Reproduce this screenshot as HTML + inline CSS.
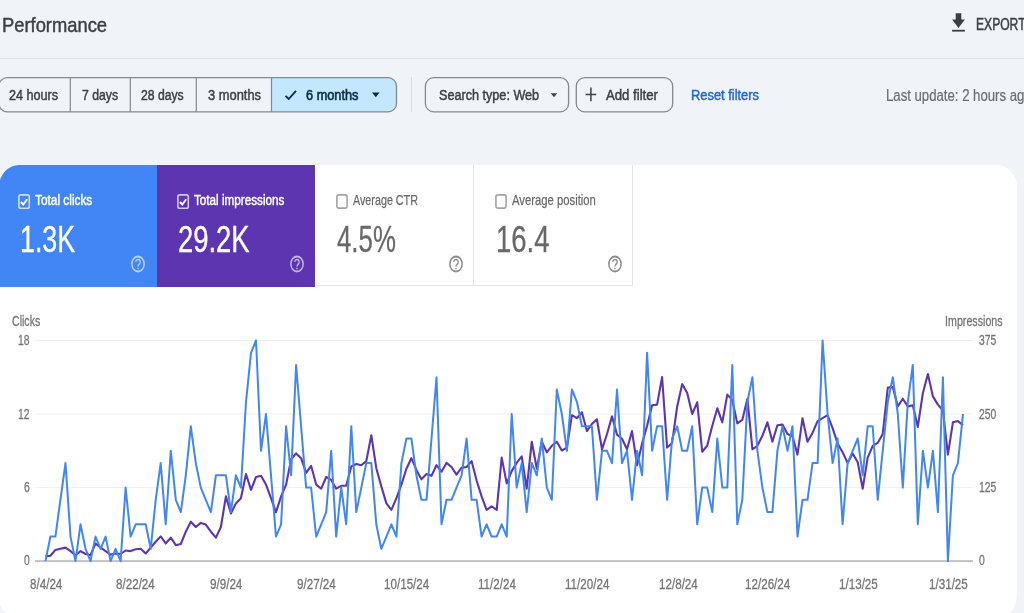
<!DOCTYPE html>
<html><head><meta charset="utf-8"><title>Performance</title>
<style>
html,body{margin:0;padding:0}
html{overflow:hidden}
body{width:1024px;height:613px;overflow:hidden;background:#f0f4f9;position:relative;font-family:"Liberation Sans",sans-serif}
.t{position:absolute;white-space:nowrap;transform-origin:0 50%;display:block}
#wrap{position:absolute;left:0;top:0;width:1024px;height:613px;filter:blur(0.45px)}
</style></head><body><div id="wrap">
<span class="t" style="left:2.00px;top:12.1px;font-size:21px;line-height:25.2px;color:#3c4043;transform:scaleX(0.874);-webkit-text-stroke:0.45px #3c4043;">Performance</span>
<svg style="position:absolute;left:951px;top:12px" width="16" height="21" viewBox="0 0 16 21"><path d="M4.7 1.3h5.6v6.3h3.6L7.5 16 1.1 7.6h3.6z" fill="#3c4043"/><rect x="1.1" y="17.8" width="12.8" height="1.8" fill="#3c4043"/></svg>
<span class="t" style="left:976.30px;top:14.8px;font-size:16.3px;line-height:19.6px;color:#3c4043;transform:scaleX(0.743);-webkit-text-stroke:0.5px #3c4043;">EXPORT</span>
<div style="position:absolute;left:0;top:58px;width:1024px;height:1px;background:#e3e7ec"></div>
<svg style="position:absolute;left:0;top:70px" width="700" height="50" viewBox="0 70 700 50"><path d="M271.5 77.6H388a8.5 8.5 0 0 1 8.5 8.5v17.3a8.5 8.5 0 0 1 -8.5 8.5H271.5z" fill="#c2e7ff"/><rect x="-1.2" y="77.6" width="397.7" height="34.3" rx="8.5" fill="none" stroke="#85888c" stroke-width="1.3"/><path d="M70.3 77.6v34.3M130.3 77.6v34.3M196.3 77.6v34.3M271.5 77.6v34.3" stroke="#85888c" stroke-width="1.2" fill="none"/><rect x="425.4" y="77.6" width="143.2" height="34.3" rx="8.5" fill="none" stroke="#85888c" stroke-width="1.3"/><rect x="576.3" y="77.6" width="96.4" height="34.3" rx="8.5" fill="none" stroke="#85888c" stroke-width="1.3"/></svg>
<span class="t" style="left:9.30px;top:86.6px;font-size:14px;line-height:16.8px;color:#3c4043;transform:scaleX(0.901);-webkit-text-stroke:0.45px #3c4043;">24 hours</span>
<span class="t" style="left:82.00px;top:86.6px;font-size:14px;line-height:16.8px;color:#3c4043;transform:scaleX(0.874);-webkit-text-stroke:0.45px #3c4043;">7 days</span>
<span class="t" style="left:141.20px;top:86.6px;font-size:14px;line-height:16.8px;color:#3c4043;transform:scaleX(0.871);-webkit-text-stroke:0.45px #3c4043;">28 days</span>
<span class="t" style="left:207.50px;top:86.6px;font-size:14px;line-height:16.8px;color:#3c4043;transform:scaleX(0.920);-webkit-text-stroke:0.45px #3c4043;">3 months</span>
<span class="t" style="left:306.00px;top:86.6px;font-size:14px;line-height:16.8px;color:#0b2a47;transform:scaleX(0.911);-webkit-text-stroke:0.6px #0b2a47;">6 months</span>
<svg style="position:absolute;left:283px;top:87px" width="16" height="16" viewBox="0 0 16 16"><path d="M2.5 8.8l3.2 3.2 7.3-8.2" fill="none" stroke="#0b2a47" stroke-width="1.8"/></svg>
<svg style="position:absolute;left:371px;top:92px" width="10" height="6" viewBox="0 0 10 6"><path d="M1 0.5h7.6L4.8 5.2z" fill="#0b2a47"/></svg>
<div style="position:absolute;left:411px;top:77px;width:1px;height:35px;background:#d8dce1"></div>
<span class="t" style="left:438.80px;top:86.6px;font-size:14px;line-height:16.8px;color:#3c4043;transform:scaleX(0.902);-webkit-text-stroke:0.45px #3c4043;">Search type: Web</span>
<svg style="position:absolute;left:550px;top:93px" width="8" height="5" viewBox="0 0 8 5"><path d="M0.8 0.3h6.4L4 4.2z" fill="#3c4043"/></svg>
<svg style="position:absolute;left:585px;top:87px" width="12" height="15" viewBox="0 0 12 15"><path d="M5.9 0.6v13.6M0.6 7.4h10.6" stroke="#3c4043" stroke-width="1.5" fill="none"/></svg>
<span class="t" style="left:606.30px;top:86.6px;font-size:14px;line-height:16.8px;color:#3c4043;transform:scaleX(0.940);-webkit-text-stroke:0.45px #3c4043;">Add filter</span>
<span class="t" style="left:691.00px;top:86.6px;font-size:14px;line-height:16.8px;color:#2066d6;transform:scaleX(0.920);-webkit-text-stroke:0.45px #2066d6;">Reset filters</span>
<span class="t" style="left:885.90px;top:85.9px;font-size:16px;line-height:19.2px;color:#6a6d70;transform:scaleX(0.823);-webkit-text-stroke:0.2px #6a6d70;">Last update: 2 hours ago</span>
<div style="position:absolute;left:-1px;top:165px;width:1017.7px;height:453.5px;background:#fff;border-radius:20px 20px 18px 20px / 22px 22px 26px 22px;overflow:hidden"><div style="position:absolute;left:0;top:0;width:158px;height:121.5px;background:#4285f4"></div><div style="position:absolute;left:157.7px;top:0;width:158.8px;height:121.5px;background:#5e35b1"></div><div style="position:absolute;left:316.5px;top:0;width:158px;height:121px;border-right:1px solid #e4e4e4;border-bottom:1px solid #e4e4e4;box-sizing:border-box"></div><div style="position:absolute;left:474.5px;top:0;width:159.5px;height:121px;border-right:1px solid #e4e4e4;border-bottom:1px solid #e4e4e4;box-sizing:border-box"></div></div>
<svg style="position:absolute;left:18.4px;top:193.6px" width="13" height="16" viewBox="0 0 13 16"><rect x="0.9" y="0.9" width="10.4" height="13.4" rx="1.8" fill="none" stroke="#fff" stroke-opacity="0.72" stroke-width="1.6"/><path d="M2.9 8l2.4 2.5 3.9-5.2" fill="none" stroke="#fff" stroke-width="1.9"/></svg>
<span class="t" style="left:35.40px;top:191.2px;font-size:15px;line-height:18.0px;color:#fff;transform:scaleX(0.790);-webkit-text-stroke:0.45px #fff;">Total clicks</span>
<span class="t" style="left:20.30px;top:217.5px;font-size:36.5px;line-height:43.8px;color:#fff;transform:scaleX(0.734);-webkit-text-stroke:0.35px #fff;">1.3K</span>
<svg style="position:absolute;left:129.3px;top:252.7px" width="18" height="22" viewBox="0 0 18 22"><g transform="translate(9 11) scale(1 1.22)" opacity="0.62" fill="none" stroke="#fff" stroke-width="1.5"><circle cx="0" cy="0" r="6.15"/><path d="M-2.2 -1.6a2.2 2.1 0 1 1 3.5 1.7c-.8.6-1.3 .9-1.3 2" stroke-width="1.35"/><path d="M0 3.1v1.3" stroke-width="1.4"/></g></svg>
<svg style="position:absolute;left:177.2px;top:193.6px" width="13" height="16" viewBox="0 0 13 16"><rect x="0.9" y="0.9" width="10.4" height="13.4" rx="1.8" fill="none" stroke="#fff" stroke-opacity="0.72" stroke-width="1.6"/><path d="M2.9 8l2.4 2.5 3.9-5.2" fill="none" stroke="#fff" stroke-width="1.9"/></svg>
<span class="t" style="left:194.30px;top:191.2px;font-size:15px;line-height:18.0px;color:#fff;transform:scaleX(0.780);-webkit-text-stroke:0.45px #fff;">Total impressions</span>
<span class="t" style="left:177.90px;top:217.5px;font-size:36.5px;line-height:43.8px;color:#fff;transform:scaleX(0.751);-webkit-text-stroke:0.35px #fff;">29.2K</span>
<svg style="position:absolute;left:287.9px;top:252.7px" width="18" height="22" viewBox="0 0 18 22"><g transform="translate(9 11) scale(1 1.22)" opacity="0.62" fill="none" stroke="#fff" stroke-width="1.5"><circle cx="0" cy="0" r="6.15"/><path d="M-2.2 -1.6a2.2 2.1 0 1 1 3.5 1.7c-.8.6-1.3 .9-1.3 2" stroke-width="1.35"/><path d="M0 3.1v1.3" stroke-width="1.4"/></g></svg>
<svg style="position:absolute;left:336.2px;top:193.6px" width="13" height="16" viewBox="0 0 13 16"><rect x="0.9" y="0.9" width="10.2" height="13.2" rx="2" fill="#fff" stroke="#a4a4a4" stroke-width="1.6"/></svg>
<span class="t" style="left:353.00px;top:191.0px;font-size:15.2px;line-height:18.2px;color:#696969;transform:scaleX(0.708);-webkit-text-stroke:0.25px #696969;">Average CTR</span>
<span class="t" style="left:337.00px;top:217.5px;font-size:36.5px;line-height:43.8px;color:#696969;transform:scaleX(0.708);-webkit-text-stroke:0.3px #696969;">4.5%</span>
<svg style="position:absolute;left:447.0px;top:253.2px" width="18" height="22" viewBox="0 0 18 22"><g transform="translate(9 11) scale(1 1.22)" opacity="1" fill="none" stroke="#8c8c8c" stroke-width="1.5"><circle cx="0" cy="0" r="6.15"/><path d="M-2.2 -1.6a2.2 2.1 0 1 1 3.5 1.7c-.8.6-1.3 .9-1.3 2" stroke-width="1.35"/><path d="M0 3.1v1.3" stroke-width="1.4"/></g></svg>
<svg style="position:absolute;left:494.7px;top:193.6px" width="13" height="16" viewBox="0 0 13 16"><rect x="0.9" y="0.9" width="10.2" height="13.2" rx="2" fill="#fff" stroke="#a4a4a4" stroke-width="1.6"/></svg>
<span class="t" style="left:512.00px;top:191.0px;font-size:15.2px;line-height:18.2px;color:#696969;transform:scaleX(0.743);-webkit-text-stroke:0.25px #696969;">Average position</span>
<span class="t" style="left:496.00px;top:217.5px;font-size:36.5px;line-height:43.8px;color:#696969;transform:scaleX(0.754);-webkit-text-stroke:0.3px #696969;">16.4</span>
<svg style="position:absolute;left:605.8px;top:253.2px" width="18" height="22" viewBox="0 0 18 22"><g transform="translate(9 11) scale(1 1.22)" opacity="1" fill="none" stroke="#8c8c8c" stroke-width="1.5"><circle cx="0" cy="0" r="6.15"/><path d="M-2.2 -1.6a2.2 2.1 0 1 1 3.5 1.7c-.8.6-1.3 .9-1.3 2" stroke-width="1.35"/><path d="M0 3.1v1.3" stroke-width="1.4"/></g></svg>
<svg style="position:absolute;left:0;top:0" width="1024" height="613" viewBox="0 0 1024 613"><rect x="35.5" y="340.0" width="937.5" height="1" fill="#f0f0f0"/><rect x="35.5" y="413.5" width="937.5" height="1" fill="#f0f0f0"/><rect x="35.5" y="487.1" width="937.5" height="1" fill="#f0f0f0"/><rect x="35" y="560.1" width="938" height="2" fill="#c2c2c2"/><polyline points="45.4,556.4 50.4,555.8 55.4,549.9 60.4,548.7 65.5,547.6 70.5,551.1 75.5,555.2 80.5,551.1 85.5,554.0 90.5,555.2 95.5,543.5 100.6,547.6 105.6,551.1 110.6,554.6 115.6,553.5 120.6,554.0 125.6,550.5 130.6,551.1 135.7,549.3 140.7,548.7 145.7,553.5 150.7,547.6 155.7,541.7 160.7,536.4 165.7,543.5 170.8,537.6 175.8,545.2 180.8,544.0 185.8,531.7 190.8,521.7 195.8,527.0 200.8,522.9 205.8,524.6 210.9,531.7 215.9,537.6 220.9,527.0 225.9,496.4 230.9,513.5 235.9,503.4 240.9,498.2 246.0,474.0 251.0,489.9 256.0,477.0 261.0,475.8 266.0,484.6 271.0,498.2 276.0,512.3 281.1,496.4 286.1,484.6 291.1,459.3 296.1,453.4 301.1,458.2 306.1,472.9 311.1,465.8 316.2,484.6 321.2,488.7 326.2,477.0 331.2,479.9 336.2,488.7 341.2,485.8 346.2,485.8 351.3,466.4 356.3,464.0 361.3,465.2 366.3,461.1 371.3,435.2 376.3,468.2 381.3,486.4 386.4,503.4 391.4,509.9 396.4,498.2 401.4,484.6 406.4,468.7 411.4,458.2 416.4,469.9 421.4,479.3 426.5,474.0 431.5,475.8 436.5,465.2 441.5,471.7 446.5,462.9 451.5,467.0 456.5,474.6 461.6,467.6 466.6,467.0 471.6,461.1 476.6,480.5 481.6,496.4 486.6,509.9 491.6,506.4 496.7,509.9 501.7,457.6 506.7,483.4 511.7,471.1 516.7,462.9 521.7,456.4 526.7,488.7 531.8,441.7 536.8,468.7 541.8,441.7 546.8,452.3 551.8,445.8 556.8,441.7 561.8,450.5 566.9,447.6 571.9,415.2 576.9,418.2 581.9,412.3 586.9,431.1 591.9,424.0 596.9,419.3 602.0,449.3 607.0,434.0 612.0,416.4 617.0,434.6 622.0,438.7 627.0,449.3 632.0,431.1 637.1,465.2 642.1,443.4 647.1,425.8 652.1,405.2 657.1,404.6 662.1,377.0 667.1,447.6 672.1,442.9 677.2,406.4 682.2,384.0 687.2,392.9 692.2,414.0 697.2,402.3 702.2,451.7 707.2,445.8 712.3,425.8 717.3,408.2 722.3,422.3 727.3,394.6 732.3,399.9 737.3,423.4 742.3,419.9 747.4,398.7 752.4,449.3 757.4,445.8 762.4,435.8 767.4,422.3 772.4,441.7 777.4,425.2 782.5,424.6 787.5,434.0 792.5,436.4 797.5,454.6 802.5,418.2 807.5,441.7 812.5,432.9 817.6,421.1 822.6,418.2 827.6,415.2 832.6,428.2 837.6,443.4 842.6,452.3 847.6,462.9 852.7,453.4 857.7,462.3 862.7,488.7 867.7,457.6 872.7,445.8 877.7,442.9 882.7,434.0 887.8,387.6 892.8,387.0 897.8,406.4 902.8,398.7 907.8,406.4 912.8,405.2 917.8,427.0 922.9,392.9 927.9,374.0 932.9,396.4 937.9,404.6 942.9,410.5 947.9,454.6 952.9,422.3 957.9,421.1 963.0,425.2" fill="none" stroke="#5e35b1" stroke-width="2.1" stroke-linejoin="round"/><polyline points="45.4,561.1 50.4,536.6 55.4,536.6 60.4,499.8 65.5,463.1 70.5,536.6 75.5,561.1 80.5,524.3 85.5,548.8 90.5,561.1 95.5,536.6 100.6,548.8 105.6,536.6 110.6,561.1 115.6,548.8 120.6,561.1 125.6,487.6 130.6,536.6 135.7,524.3 140.7,524.3 145.7,524.3 150.7,548.8 155.7,499.8 160.7,463.1 165.7,524.3 170.8,450.8 175.8,499.8 180.8,512.1 185.8,475.3 190.8,426.3 195.8,463.1 200.8,487.6 205.8,499.8 210.9,512.1 215.9,475.3 220.9,475.3 225.9,475.3 230.9,512.1 235.9,475.3 240.9,487.6 246.0,401.8 251.0,352.8 256.0,340.5 261.0,450.8 266.0,414.0 271.0,475.3 276.0,536.6 281.1,524.3 286.1,426.3 291.1,475.3 296.1,365.0 301.1,426.3 306.1,487.6 311.1,487.6 316.2,536.6 321.2,524.3 326.2,512.1 331.2,450.8 336.2,536.6 341.2,487.6 346.2,524.3 351.3,426.3 356.3,512.1 361.3,487.6 366.3,463.1 371.3,463.1 376.3,524.3 381.3,548.8 386.4,536.6 391.4,524.3 396.4,536.6 401.4,463.1 406.4,438.5 411.4,438.5 416.4,475.3 421.4,499.8 426.5,499.8 431.5,438.5 436.5,377.3 441.5,524.3 446.5,499.8 451.5,499.8 456.5,487.6 461.6,475.3 466.6,438.5 471.6,499.8 476.6,499.8 481.6,536.6 486.6,524.3 491.6,536.6 496.7,536.6 501.7,524.3 506.7,536.6 511.7,414.0 516.7,487.6 521.7,463.1 526.7,512.1 531.8,463.1 536.8,475.3 541.8,438.5 546.8,487.6 551.8,499.8 556.8,389.5 561.8,414.0 566.9,450.8 571.9,389.5 576.9,401.8 581.9,426.3 586.9,426.3 591.9,426.3 596.9,499.8 602.0,450.8 607.0,450.8 612.0,463.1 617.0,389.5 622.0,463.1 627.0,450.8 632.0,499.8 637.1,450.8 642.1,475.3 647.1,352.8 652.1,450.8 657.1,426.3 662.1,426.3 667.1,499.8 672.1,438.5 677.2,426.3 682.2,450.8 687.2,450.8 692.2,426.3 697.2,524.3 702.2,487.6 707.2,487.6 712.3,512.1 717.3,438.5 722.3,487.6 727.3,487.6 732.3,365.0 737.3,524.3 742.3,499.8 747.4,401.8 752.4,377.3 757.4,450.8 762.4,487.6 767.4,512.1 772.4,512.1 777.4,450.8 782.5,426.3 787.5,450.8 792.5,426.3 797.5,536.6 802.5,499.8 807.5,499.8 812.5,463.1 817.6,463.1 822.6,340.5 827.6,414.0 832.6,463.1 837.6,438.5 842.6,524.3 847.6,463.1 852.7,450.8 857.7,438.5 862.7,475.3 867.7,426.3 872.7,426.3 877.7,499.8 882.7,450.8 887.8,401.8 892.8,377.3 897.8,414.0 902.8,487.6 907.8,401.8 912.8,365.0 917.8,524.3 922.9,450.8 927.9,487.6 932.9,450.8 937.9,512.1 942.9,377.3 947.9,561.1 952.9,475.3 957.9,463.1 963.0,414.0" fill="none" stroke="#4285f4" stroke-width="2.0" stroke-linejoin="round"/></svg>
<span class="t" style="left:12.20px;top:313.4px;font-size:14.3px;line-height:17.2px;color:#757575;transform:scaleX(0.740);-webkit-text-stroke:0.3px #757575;">Clicks</span>
<span class="t" style="left:945.00px;top:313.4px;font-size:14.3px;line-height:17.2px;color:#757575;transform:scaleX(0.748);-webkit-text-stroke:0.3px #757575;">Impressions</span>
<span class="t" style="left:17.88px;top:330.8px;font-size:15px;line-height:18.0px;color:#757575;transform:scaleX(0.690);-webkit-text-stroke:0.3px #757575;">18</span>
<span class="t" style="left:17.88px;top:404.6px;font-size:15px;line-height:18.0px;color:#757575;transform:scaleX(0.690);-webkit-text-stroke:0.3px #757575;">12</span>
<span class="t" style="left:23.67px;top:477.9px;font-size:15px;line-height:18.0px;color:#757575;transform:scaleX(0.690);-webkit-text-stroke:0.3px #757575;">6</span>
<span class="t" style="left:23.67px;top:551.1px;font-size:15px;line-height:18.0px;color:#757575;transform:scaleX(0.690);-webkit-text-stroke:0.3px #757575;">0</span>
<span class="t" style="left:979.30px;top:330.8px;font-size:15px;line-height:18.0px;color:#757575;transform:scaleX(0.690);-webkit-text-stroke:0.3px #757575;">375</span>
<span class="t" style="left:979.30px;top:404.6px;font-size:15px;line-height:18.0px;color:#757575;transform:scaleX(0.690);-webkit-text-stroke:0.3px #757575;">250</span>
<span class="t" style="left:979.30px;top:477.9px;font-size:15px;line-height:18.0px;color:#757575;transform:scaleX(0.690);-webkit-text-stroke:0.3px #757575;">125</span>
<span class="t" style="left:979.30px;top:551.1px;font-size:15px;line-height:18.0px;color:#757575;transform:scaleX(0.690);-webkit-text-stroke:0.3px #757575;">0</span>
<span class="t" style="left:29.54px;top:574.7px;font-size:15px;line-height:18.0px;color:#757575;transform:scaleX(0.775);-webkit-text-stroke:0.3px #757575;">8/4/24</span>
<span class="t" style="left:116.12px;top:574.7px;font-size:15px;line-height:18.0px;color:#757575;transform:scaleX(0.775);-webkit-text-stroke:0.3px #757575;">8/22/24</span>
<span class="t" style="left:210.34px;top:574.7px;font-size:15px;line-height:18.0px;color:#757575;transform:scaleX(0.775);-webkit-text-stroke:0.3px #757575;">9/9/24</span>
<span class="t" style="left:296.62px;top:574.7px;font-size:15px;line-height:18.0px;color:#757575;transform:scaleX(0.775);-webkit-text-stroke:0.3px #757575;">9/27/24</span>
<span class="t" style="left:384.37px;top:574.7px;font-size:15px;line-height:18.0px;color:#757575;transform:scaleX(0.775);-webkit-text-stroke:0.3px #757575;">10/15/24</span>
<span class="t" style="left:477.55px;top:574.7px;font-size:15px;line-height:18.0px;color:#757575;transform:scaleX(0.775);-webkit-text-stroke:0.3px #757575;">11/2/24</span>
<span class="t" style="left:564.80px;top:574.7px;font-size:15px;line-height:18.0px;color:#757575;transform:scaleX(0.775);-webkit-text-stroke:0.3px #757575;">11/20/24</span>
<span class="t" style="left:658.62px;top:574.7px;font-size:15px;line-height:18.0px;color:#757575;transform:scaleX(0.775);-webkit-text-stroke:0.3px #757575;">12/8/24</span>
<span class="t" style="left:745.37px;top:574.7px;font-size:15px;line-height:18.0px;color:#757575;transform:scaleX(0.775);-webkit-text-stroke:0.3px #757575;">12/26/24</span>
<span class="t" style="left:838.62px;top:574.7px;font-size:15px;line-height:18.0px;color:#757575;transform:scaleX(0.775);-webkit-text-stroke:0.3px #757575;">1/13/25</span>
<span class="t" style="left:928.62px;top:574.7px;font-size:15px;line-height:18.0px;color:#757575;transform:scaleX(0.775);-webkit-text-stroke:0.3px #757575;">1/31/25</span>
</div></body></html>
